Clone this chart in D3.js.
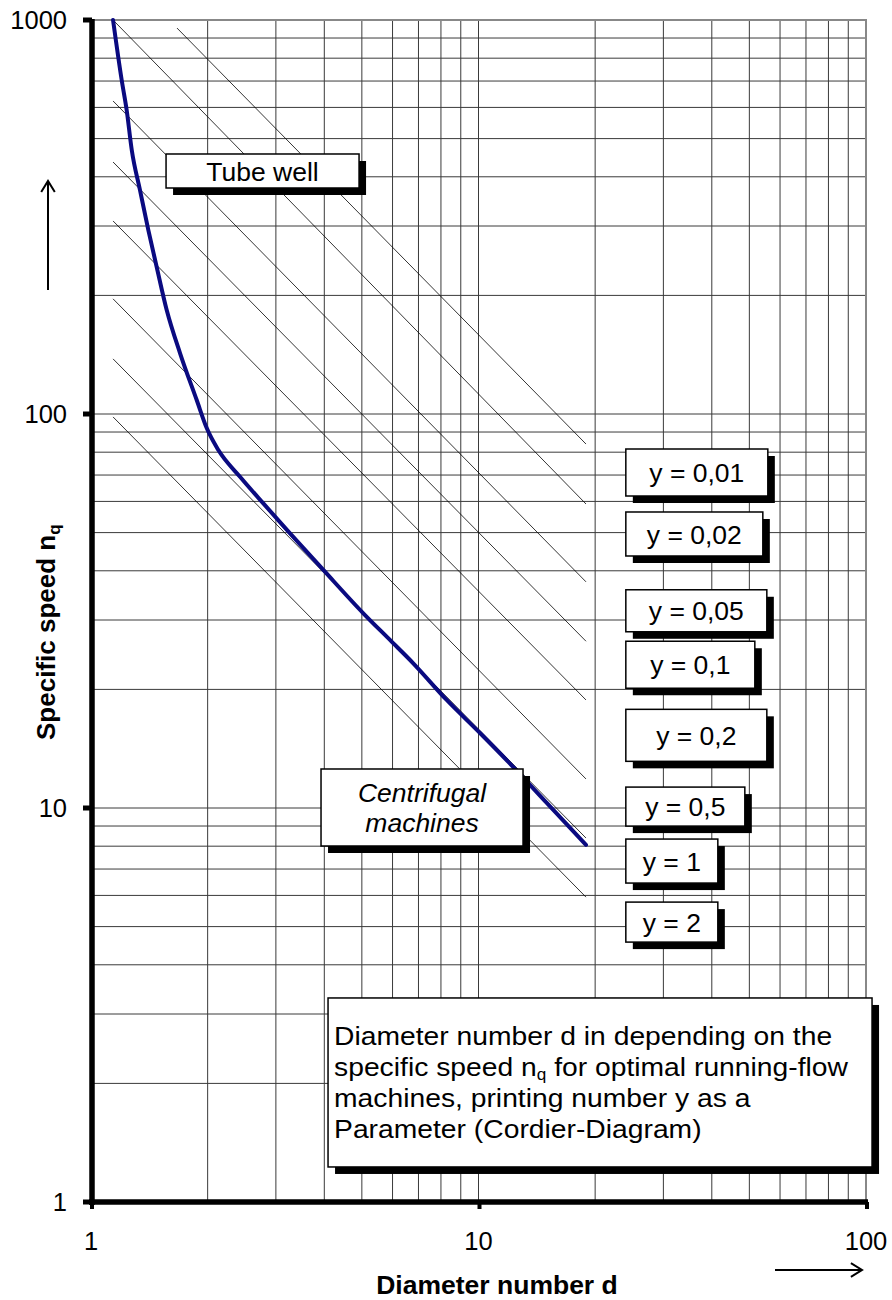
<!DOCTYPE html>
<html><head><meta charset="utf-8">
<script src="https://cdn.jsdelivr.net/npm/d3@7"></script>
<style>body{margin:0;background:#fff} text{font-family:"Liberation Sans",Arial,sans-serif;fill:#000}</style>
</head><body><svg id="c" width="892" height="1300"></svg>
<script>
// ---- data ----
const xTicks = [1, 10, 100];
const yTicks = [1, 10, 100, 1000];
// optimal curve (Cordier line)
const curveD  = [1.14, 1.200, 1.236, 1.274, 1.338, 1.406, 1.477, 1.568, 1.697, 1.874, 1.989, 2.131, 2.424, 2.784, 3.263, 3.977, 5.043, 5.909, 6.786, 8.277, 10.09, 12.30, 15.0, 18.94];
const curveNq = [1000, 704, 591, 468, 370, 293, 236.5, 183.6, 142.8, 108.5, 92.1, 81.0, 69.3, 59.3, 49.8, 40.2, 31.2, 26.7, 23.3, 18.8, 15.5, 12.7, 10.3, 8.06];
// parameter lines y
const yParams     = ["0,01", "0,02", "0,05", "0,1", "0,2", "0,5", "1", "2"];
const lineStartD  = [1.667, 1.14, 1.14, 1.14, 1.14, 1.14, 1.14, 1.14];
const lineStartNq = [954, 1000, 623, 436, 309, 196, 138, 98.3];
const lineEndD    = [18.94, 18.94, 18.94, 18.94, 18.94, 18.94, 18.94, 18.94];
const lineEndNq   = [83.9, 59.1, 37.5, 26.5, 18.8, 11.85, 8.39, 5.94];
// label box anchors (top-left, data space)
const labelD  = [24.0, 24.0, 24.0, 24.0, 24.0, 24.0, 24.0, 24.0];
const labelNq = [81.5, 56.4, 35.8, 26.5, 17.8, 11.3, 8.34, 5.77];

// ---- layout ----
const labelW = [142, 137, 141, 129, 141, 119, 92, 92];
const labelH = [47, 44, 42, 47, 52, 39, 44, 40];

const svg = d3.select("#c");
const x = d3.scaleLog().domain([1, 100]).range([91, 866]);
const y = d3.scaleLog().domain([1, 1000]).range([1202, 20]);

// grid
const minorX = [];
[1, 10].forEach(b => { for (let k = 1; k <= 10; k++) minorX.push(b * k); });
const minorY = [];
[1, 10, 100].forEach(b => { for (let k = 1; k <= 10; k++) minorY.push(b * k); });
const grid = svg.append("g").attr("stroke", "#3a3a3a").attr("stroke-width", 1);
grid.selectAll("line.v").data([...new Set(minorX)]).join("line")
  .attr("x1", d => x(d)).attr("x2", d => x(d)).attr("y1", y(1000)).attr("y2", y(1));
grid.selectAll("line.h").data([...new Set(minorY)]).join("line")
  .attr("y1", d => y(d)).attr("y2", d => y(d)).attr("x1", x(1)).attr("x2", x(100));
// plot border
svg.append("rect").attr("x", x(1)).attr("y", y(1000)).attr("width", x(100) - x(1)).attr("height", y(1) - y(1000))
  .attr("fill", "none").attr("stroke", "#888").attr("stroke-width", 2);

// parameter lines
svg.append("g").selectAll("line").data(yParams).join("line")
  .attr("x1", (d, i) => x(lineStartD[i])).attr("y1", (d, i) => y(lineStartNq[i]))
  .attr("x2", (d, i) => x(lineEndD[i])).attr("y2", (d, i) => y(lineEndNq[i]))
  .attr("stroke", "#000").attr("stroke-width", 0.8);

// curve
const pts = curveD.map((d, i) => [d, curveNq[i]]);
svg.append("path").datum(pts)
  .attr("d", d3.line().x(p => x(p[0])).y(p => y(p[1])).curve(d3.curveMonotoneX))
  .attr("fill", "none").attr("stroke", "#0a0a80").attr("stroke-width", 4).attr("stroke-linecap", "round");

// axes
svg.append("line").attr("x1", 92).attr("x2", 92).attr("y1", y(1000) - 1).attr("y2", y(1) + 3)
  .attr("stroke", "#000").attr("stroke-width", 5.5);
svg.append("line").attr("x1", 89).attr("x2", x(100) + 2).attr("y1", 1202).attr("y2", 1202)
  .attr("stroke", "#000").attr("stroke-width", 5.5);
svg.append("g").selectAll("line").data(yTicks).join("line")
  .attr("x1", 83).attr("x2", 92).attr("y1", d => y(d)).attr("y2", d => y(d))
  .attr("stroke", "#000").attr("stroke-width", 5);
svg.append("g").selectAll("line").data(xTicks).join("line")
  .attr("x1", d => x(d) + 1).attr("x2", d => x(d) + 1).attr("y1", 1202).attr("y2", 1209)
  .attr("stroke", "#000").attr("stroke-width", 4);
svg.append("g").selectAll("text").data(yTicks).join("text")
  .attr("x", 67).attr("y", d => y(d)).attr("dy", "0.35em").attr("text-anchor", "end")
  .attr("font-size", 25.5).text(d => d);
svg.append("g").selectAll("text").data(xTicks).join("text")
  .attr("x", d => x(d)).attr("y", 1250).attr("text-anchor", "middle")
  .attr("font-size", 25.5).text(d => d);

// axis titles
const yt = svg.append("text").attr("transform", "translate(55,740) rotate(-90)")
  .attr("font-size", 26).attr("font-weight", "bold");
yt.append("tspan").text("Specific speed n");
yt.append("tspan").attr("dy", 5).attr("font-size", 17).text("q");
svg.append("text").attr("x", 497).attr("y", 1294).attr("text-anchor", "middle")
  .attr("font-size", 26.5).attr("font-weight", "bold").text("Diameter number d");

// arrows
function arrow(x1, y1, x2, y2) {
  svg.append("line").attr("x1", x1).attr("y1", y1).attr("x2", x2).attr("y2", y2)
    .attr("stroke", "#000").attr("stroke-width", 2);
  const a = Math.atan2(y2 - y1, x2 - x1), L = 13, w = 0.55;
  svg.append("path").attr("d",
    `M${x2 - L * Math.cos(a - w)},${y2 - L * Math.sin(a - w)} L${x2},${y2} L${x2 - L * Math.cos(a + w)},${y2 - L * Math.sin(a + w)}`)
    .attr("fill", "none").attr("stroke", "#000").attr("stroke-width", 2);
}
arrow(48, 290, 48, 181);
arrow(775, 1270, 862, 1270);

// boxes
function box(x0, y0, w, h) {
  const g = svg.append("g");
  g.append("rect").attr("x", x0 + 7).attr("y", y0 + 7).attr("width", w).attr("height", h).attr("fill", "#000");
  g.append("rect").attr("x", x0).attr("y", y0).attr("width", w).attr("height", h)
    .attr("fill", "#fff").attr("stroke", "#000").attr("stroke-width", 1.5);
  return g;
}
// parameter labels
yParams.forEach((p, i) => {
  const x0 = x(labelD[i]), y0 = y(labelNq[i]);
  const g = box(x0, y0, labelW[i], labelH[i]);
  g.append("text").attr("x", x0 + labelW[i] / 2).attr("y", y0 + labelH[i] / 2).attr("dy", "0.36em")
    .attr("text-anchor", "middle").attr("font-size", 26.5).text("y = " + p);
});
// Tube well
{
  const x0 = x(1.562), y0 = y(457), w = 193, h = 34;
  const g = box(x0, y0, w, h);
  g.append("text").attr("x", x0 + w / 2).attr("y", y0 + h / 2).attr("dy", "0.36em")
    .attr("text-anchor", "middle").attr("font-size", 26.5).text("Tube well");
}
// Centrifugal machines
{
  const x0 = x(3.923), y0 = y(12.56), w = 202, h = 77;
  const g = box(x0, y0, w, h);
  g.append("text").attr("x", x0 + w / 2).attr("y", y0 + 33).attr("text-anchor", "middle")
    .attr("font-size", 26.5).attr("font-style", "italic").text("Centrifugal");
  g.append("text").attr("x", x0 + w / 2).attr("y", y0 + 63).attr("text-anchor", "middle")
    .attr("font-size", 26.5).attr("font-style", "italic").text("machines");
}
// Title box
{
  const x0 = x(4.09), y0 = y(3.295), w = 544, h = 169;
  const g = box(x0, y0, w, h);
  const tx = x0 + 6, sx = 1.075, fs = 26.3;
  const line = (dy) => g.append("text").attr("transform", `translate(${tx},${y0 + dy}) scale(${sx},1)`).attr("font-size", fs);
  line(47).text("Diameter number d in depending on the");
  const t2 = line(78);
  t2.append("tspan").text("specific speed n");
  t2.append("tspan").attr("dy", 4).attr("font-size", 16).text("q");
  t2.append("tspan").attr("dy", -4).text(" for optimal running-flow");
  line(109).text("machines, printing number y as a");
  line(140).text("Parameter (Cordier-Diagram)");
}
</script></body></html>
